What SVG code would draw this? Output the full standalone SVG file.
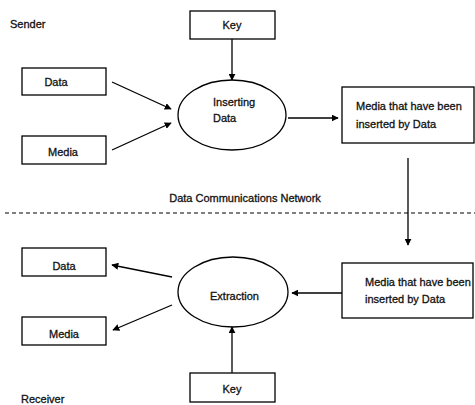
<svg xmlns="http://www.w3.org/2000/svg" width="475" height="405" viewBox="0 0 475 405">
<style>
.box{fill:#fff;stroke:#000;stroke-width:1.3}
.t{font-family:"Liberation Sans",Arial,sans-serif;font-size:11px;fill:#111;stroke:#111;stroke-width:0.3}
.m{text-anchor:middle}
.c{fill:none;stroke:#000;stroke-width:1.3}
</style>
<defs>
<marker id="ah" viewBox="0 0 10 10" refX="9" refY="5" markerWidth="7" markerHeight="7" markerUnits="userSpaceOnUse" orient="auto">
<path d="M0,0 L10,5 L0,10 z" fill="#000"/>
</marker>
</defs>
<rect width="475" height="405" fill="#fff"/>
<text class="t" x="10" y="28">Sender</text>
<text class="t m" x="245" y="202">Data Communications Network</text>
<line x1="5" y1="213" x2="475" y2="213" stroke="#000" stroke-width="1" stroke-dasharray="4,3"/>
<text class="t" x="21" y="403">Receiver</text>

<g id="key1"><rect class="box" x="190" y="11" width="85" height="28"/><text class="t m" x="232" y="29">Key</text></g>
<g id="data1"><rect class="box" x="22" y="68" width="84" height="27"/><text class="t m" x="56" y="86">Data</text></g>
<g id="media1"><rect class="box" x="22" y="136" width="84" height="28"/><text class="t m" x="63" y="156">Media</text></g>
<g id="insert"><ellipse class="box" cx="232" cy="115" rx="54" ry="35"/><text class="t" x="213" y="106">Inserting</text><text class="t" x="213" y="122">Data</text></g>
<g id="out1"><rect class="box" x="342" y="87" width="132" height="56"/><text class="t" x="356" y="110">Media that have been</text><text class="t" x="356" y="128">inserted by Data</text></g>

<g id="out2"><rect class="box" x="342" y="263" width="131" height="55"/><text class="t" x="365" y="286">Media that have been</text><text class="t" x="365" y="303">inserted by Data</text></g>
<g id="extract"><ellipse class="box" cx="233" cy="292" rx="55" ry="35"/><text class="t" x="210" y="300">Extraction</text></g>
<g id="data2"><rect class="box" x="22" y="248" width="84" height="28"/><text class="t m" x="64" y="270">Data</text></g>
<g id="media2"><rect class="box" x="22" y="317" width="84" height="28"/><text class="t m" x="64" y="338">Media</text></g>
<g id="key2"><rect class="box" x="190" y="373" width="85" height="29"/><text class="t m" x="232" y="393">Key</text></g>

<g id="connectors">
<line class="c" x1="232" y1="39" x2="232" y2="80" marker-end="url(#ah)"/>
<line class="c" x1="112" y1="82" x2="171" y2="109" marker-end="url(#ah)"/>
<line class="c" x1="112" y1="150" x2="171" y2="123" marker-end="url(#ah)"/>
<line class="c" x1="288" y1="118" x2="338" y2="118" marker-end="url(#ah)"/>
<line class="c" x1="408" y1="158" x2="408" y2="245" marker-end="url(#ah)"/>
<line class="c" x1="342" y1="293" x2="292" y2="293" marker-end="url(#ah)"/>
<line class="c" x1="172" y1="277" x2="112" y2="265" marker-end="url(#ah)"/>
<line class="c" x1="172" y1="305" x2="113" y2="330" marker-end="url(#ah)"/>
<line class="c" x1="232" y1="373" x2="232" y2="327" marker-end="url(#ah)"/>
</g>
</svg>
